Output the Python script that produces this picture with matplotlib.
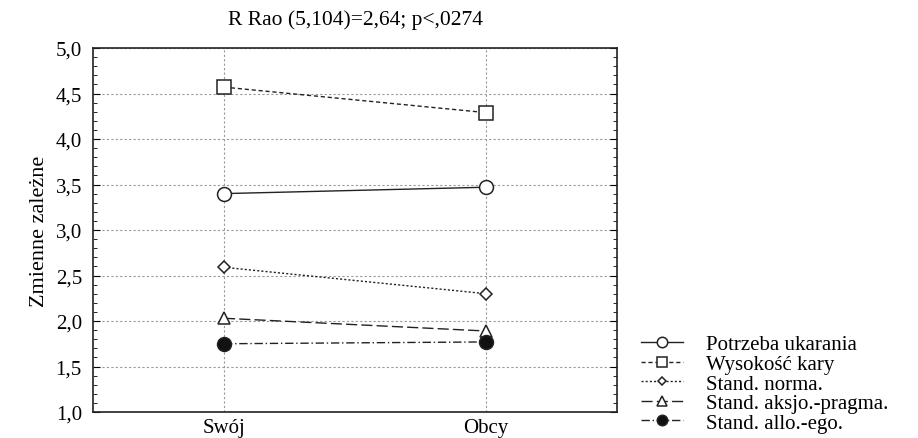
import matplotlib

matplotlib.use("Agg")
import matplotlib.pyplot as plt
from matplotlib.ticker import FuncFormatter, MultipleLocator

plt.rcParams["font.family"] = ["Liberation Serif", "DejaVu Serif"]

groups = ["Swój", "Obcy"]
series_names = [
    "Potrzeba ukarania",
    "Wysokość kary",
    "Stand. norma.",
    "Stand. aksjo.-pragma.",
    "Stand. allo.-ego.",
]
potrzeba = [3.40, 3.47]
wysokosc = [4.57, 4.29]
norma = [2.59, 2.30]
aksjo = [2.03, 1.89]
allo = [1.75, 1.77]
values = [potrzeba, wysokosc, norma, aksjo, allo]

styles = [
    dict(ls="-", marker="o", mfc="white", ms=10),
    dict(ls=(0, (3, 2)), marker="s", mfc="white", ms=10),
    dict(ls=(0, (1.5, 1.5)), marker="D", mfc="white", ms=6),
    dict(ls=(0, (8, 3)), marker="^", mfc="white", ms=9),
    dict(ls=(0, (6, 2, 1, 2)), marker="o", mfc="#111111", ms=10),
]

fig = plt.figure(figsize=(9.18, 4.39), dpi=100)
ax = fig.add_axes([93 / 918, 1 - 413 / 439, 524 / 918, 364 / 439])

x = list(range(len(groups)))
for name, vals, st in zip(series_names, values, styles):
    ax.plot(x, vals, color="#222222", lw=1.0, mec="#222222", mew=1.1,
            label=name, **st)

ax.set_xlim(-0.5, 1.5)
ax.set_ylim(1.0, 5.0)
ax.set_xticks(x)
ax.set_xticklabels(groups, fontsize=15)
ax.yaxis.set_major_locator(MultipleLocator(0.5))
ax.yaxis.set_minor_locator(MultipleLocator(0.1))
ax.yaxis.set_major_formatter(FuncFormatter(lambda v, _: f"{v:.1f}".replace(".", ",")))
ax.tick_params(axis="y", which="both", direction="in", left=True, right=True,
               labelsize=15, pad=8)
ax.tick_params(axis="y", which="major", length=5)
ax.tick_params(axis="y", which="minor", length=3)
ax.tick_params(axis="x", length=0, pad=4)
ax.grid(True, color="#999999", ls=(0, (2, 2)), lw=0.8)
for s in ax.spines.values():
    s.set_linewidth(1.2)
    s.set_color("#222222")

ax.set_ylabel("Zmienne zależne", fontsize=16, labelpad=5)
ax.set_title("R Rao (5,104)=2,64; p<,0274", fontsize=15.5, pad=17)

ax.legend(loc="lower left", bbox_to_anchor=(1.03, -0.08), frameon=False,
          fontsize=15, handlelength=2.0, handletextpad=1.1, labelspacing=0.0,
          borderaxespad=0, markerscale=0.75)

fig.savefig("out.png", dpi=100)
